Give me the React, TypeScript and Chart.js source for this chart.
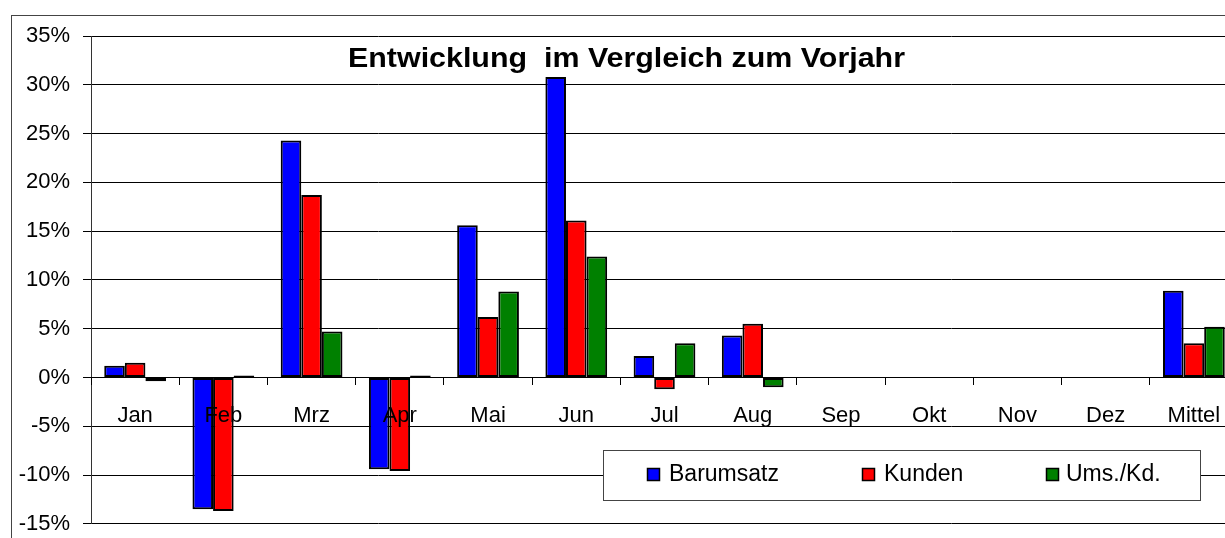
import React, { useEffect, useRef } from "react";
import { Chart, registerables } from "chart.js";

Chart.register(...registerables);

const categories = ["Jan", "Feb", "Mrz", "Apr", "Mai", "Jun", "Jul", "Aug", "Sep", "Okt", "Nov", "Dez", "Mittel"];
const barumsatz = [1.2, -13.5, 24.3, -9.4, 15.6, 30.8, 2.2, 4.3, null, null, null, null, 8.9];
const kunden = [1.5, -13.7, 18.7, -9.6, 6.2, 16.1, -1.2, 5.5, null, null, null, null, 3.5];
const umsKd = [-0.4, 0.2, 4.7, 0.2, 8.8, 12.4, 3.5, -1.0, null, null, null, null, 5.2];
const seriesNames = ["Barumsatz", "Kunden", "Ums./Kd."];
const seriesColors = ["#0000FF", "#FF0000", "#008000"];
const yTicksMin = -15;
const yTicksMax = 35;
const yTickStep = 5;
const titleText = "Entwicklung  im Vergleich zum Vorjahr";

const FONT = "'Liberation Sans', Arial, sans-serif";

const decorPlugin = {
  id: "decor",
  beforeDraw(chart: any) {
    const ctx = chart.ctx;
    ctx.save();
    ctx.fillStyle = "#ffffff";
    ctx.fillRect(0, 0, chart.width, chart.height);
    ctx.strokeStyle = "#444";
    ctx.lineWidth = 1;
    ctx.strokeRect(11.5, 15.5, chart.width + 20, chart.height + 20);
    ctx.restore();
  },
  afterDraw(chart: any) {
    const ctx = chart.ctx;
    ctx.save();
    // title
    ctx.font = `bold 27px ${FONT}`;
    ctx.fillStyle = "#000";
    ctx.textBaseline = "alphabetic";
    ctx.textAlign = "left";
    const w = ctx.measureText(titleText).width;
    ctx.translate(348, 67);
    ctx.scale(557 / w, 1);
    ctx.fillText(titleText, 0, 0);
    ctx.restore();

    // legend
    ctx.save();
    ctx.fillStyle = "#fff";
    ctx.fillRect(603, 450, 597, 50);
    ctx.strokeStyle = "#444";
    ctx.lineWidth = 1;
    ctx.strokeRect(603.5, 450.5, 597, 50);
    const markerX = [647, 862, 1046];
    const textX = [669, 884, 1066];
    ctx.font = `23px ${FONT}`;
    ctx.textBaseline = "alphabetic";
    ctx.textAlign = "left";
    chart.data.datasets.forEach((ds: any, i: number) => {
      ctx.fillStyle = ds.backgroundColor;
      ctx.fillRect(markerX[i], 468, 13, 13);
      ctx.strokeStyle = "#000";
      ctx.lineWidth = 1.5;
      ctx.strokeRect(markerX[i] + 0.5, 468.5, 12, 12);
      ctx.fillStyle = "#000";
      ctx.fillText(ds.label, textX[i], 481);
    });
    ctx.restore();
  },
};

export default function App() {
  const ref = useRef<HTMLCanvasElement>(null);
  useEffect(() => {
    if (!ref.current) return;
    const data = [barumsatz, kunden, umsKd];
    const chart = new Chart(ref.current, {
      type: "bar",
      data: {
        labels: categories,
        datasets: data.map((d, i) => ({
          label: seriesNames[i],
          data: d,
          backgroundColor: seriesColors[i],
          borderColor: "#000",
          borderWidth: 2,
          borderSkipped: false,
          categoryPercentage: 0.7,
          barPercentage: 1.0,
        })),
      },
      options: {
        responsive: false,
        maintainAspectRatio: false,
        animation: false,
        layout: { padding: { left: 0, right: 7, top: 36, bottom: 3 } },
        plugins: {
          legend: { display: false },
          title: { display: false },
          tooltip: { enabled: false },
        },
        scales: {
          x: {
            position: { y: 0 } as any,
            grid: {
              offset: true,
              drawOnChartArea: false,
              drawTicks: true,
              tickLength: 7,
              color: "#000",
              z: 1,
            },
            border: { color: "#000", width: 1, z: 1 },
            ticks: {
              color: "#000",
              font: { family: FONT, size: 22 },
              padding: 18,
              maxRotation: 0,
              autoSkip: false,
              z: 1,
            },
          },
          y: {
            min: yTicksMin,
            max: yTicksMax,
            grid: {
              color: "#000",
              lineWidth: 1,
              drawTicks: true,
              tickLength: 8,
            },
            border: { color: "#333", width: 1 },
            ticks: {
              stepSize: yTickStep,
              color: "#000",
              font: { family: FONT, size: 22 },
              padding: 13,
              callback: (v: any) => `${v}%`,
            },
            afterFit: (scale: any) => {
              scale.width = 91;
            },
          },
        },
      },
      plugins: [decorPlugin],
    });
    return () => chart.destroy();
  }, []);
  return (
    <div style={{ position: "fixed", left: 0, top: 0, width: 1225, height: 538, overflow: "hidden", background: "#fff" }}>
      <canvas ref={ref} width={1245} height={550} style={{ display: "block" }} />
    </div>
  );
}
